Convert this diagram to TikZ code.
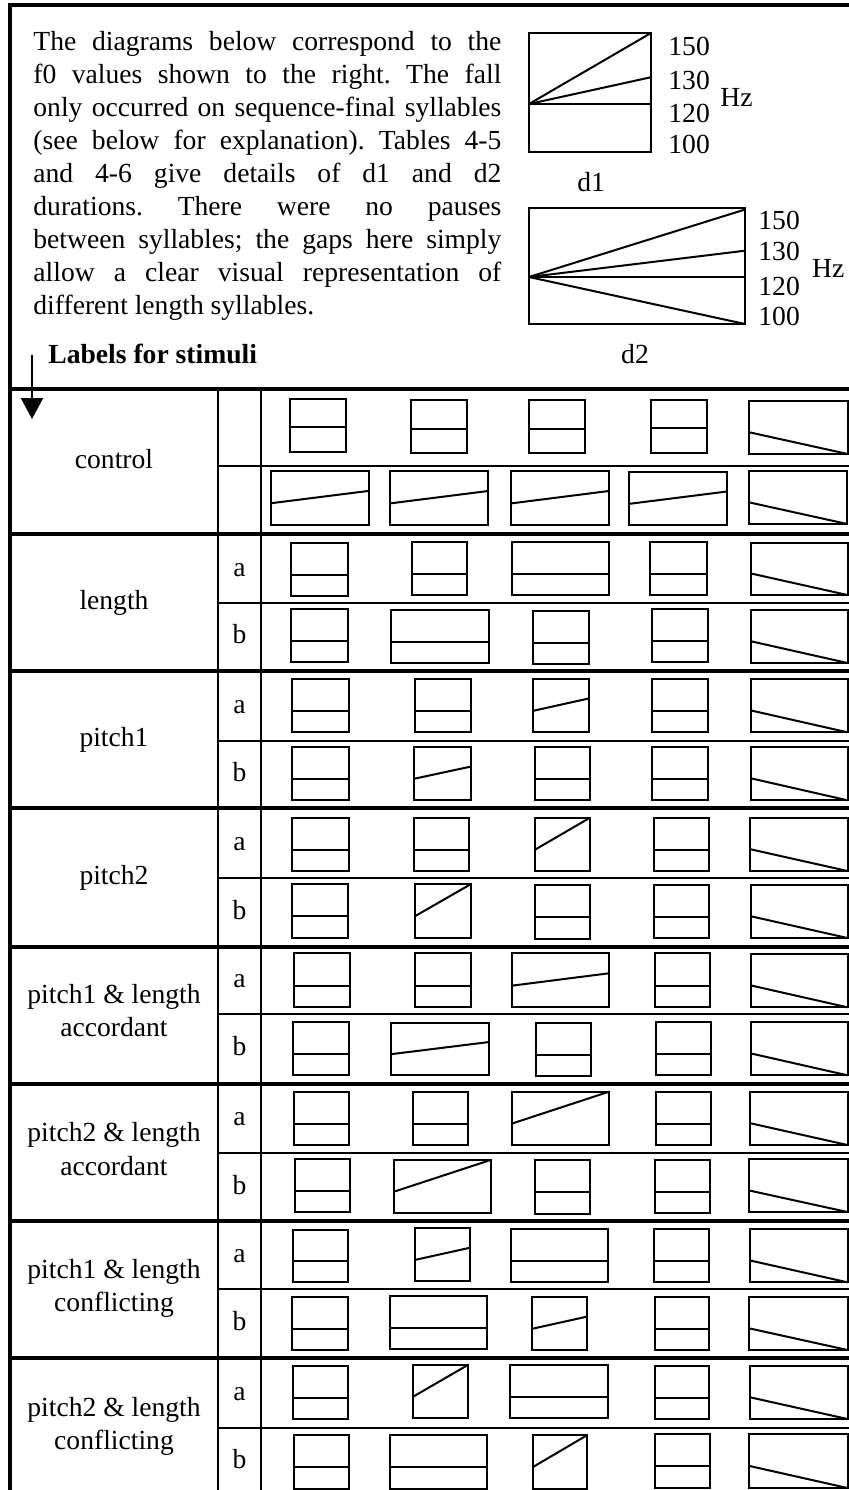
\documentclass[tikz,border=0pt]{standalone}
\usepackage{fontspec}
\setmainfont{Liberation Serif}
\usetikzlibrary{arrows.meta}
\tikzset{
  txt/.style={font=\fontsize{13.8pt}{16.5pt}\selectfont, inner sep=0pt},
  boldtxt/.style={font=\fontsize{13.8pt}{16.5pt}\selectfont\bfseries, inner sep=0pt},
  boxline/.style={line width=1pt},
  thickrule/.style={line width=2pt},
  thinrule/.style={line width=0.9pt},
  colrule/.style={line width=1pt},
}
% x1 y1 x2 y2 type: 0 flat(120), 1 flat (higher), 2 rise to 130, 3 rise to 150, 4 fall to 100
\newcommand\syl[5]{%
  \draw[boxline] (#1,#2) rectangle (#3,#4);
  \ifcase#5\relax
    \draw[boxline] (#1,{#2+0.6*(#4-#2)}) -- (#3,{#2+0.6*(#4-#2)});
  \or
    \draw[boxline] (#1,{#2+0.54*(#4-#2)}) -- (#3,{#2+0.54*(#4-#2)});
  \or
    \draw[boxline] (#1,{#2+0.6*(#4-#2)}) -- (#3,{#2+0.37*(#4-#2)});
  \or
    \draw[boxline] (#1,{#2+0.6*(#4-#2)}) -- (#3,#2);
  \or
    \draw[boxline] (#1,{#2+0.59*(#4-#2)}) -- (#3,#4);
  \fi}
\begin{document}
\begin{tikzpicture}[x=0.5pt,y=-0.5pt]
\useasboundingbox (0,0) rectangle (849,1490);
% outer borders
\draw[thickrule] (8,5) -- (849,5);
\draw[thickrule] (10,4) -- (10,1490);
% intro text
\node[txt, text width=234pt, align=justify, anchor=base west] (intro) at (33,50)
 {\tolerance=10000 \frenchspacing \hyphenpenalty=10000 \exhyphenpenalty=10000
 The diagrams below correspond to the\linebreak
 f0 values shown to the right. The fall\linebreak
 only occurred on sequence-final syllables\linebreak
 (see below for explanation). Tables 4-5\linebreak
 and 4-6 give details of d1 and d2\linebreak
 durations. There were no pauses\linebreak
 between syllables; the gaps here simply\linebreak
 allow a clear visual representation of\linebreak
 different length syllables.};
% d1 diagram
\draw[boxline] (529,33) rectangle (651,152);
\draw[boxline] (529,104) -- (651,104);
\draw[boxline] (529,104) -- (651,33);
\draw[boxline] (529,104) -- (652,77);
\node[txt, anchor=west] (d1a) at (668,46) {150};
\node[txt, anchor=west] (d1b) at (668,80) {130};
\node[txt, anchor=west] (d1c) at (668,113) {120};
\node[txt, anchor=west] (d1d) at (668,144) {100};
\node[txt, anchor=west] (d1hz) at (720,97) {Hz};
\node[txt, anchor=west] (d1lab) at (577,182) {d1};
% d2 diagram
\draw[boxline] (528.5,207.5) rectangle (745,324);
\draw[boxline] (529,277) -- (745,277);
\draw[boxline] (529,277) -- (745,209.5);
\draw[boxline] (529,277) -- (745,250.7);
\draw[boxline] (529,277) -- (745,324);
\node[txt, anchor=west] (d2a) at (758,220.7) {150};
\node[txt, anchor=west] (d2b) at (758,251.7) {130};
\node[txt, anchor=west] (d2c) at (758,286.7) {120};
\node[txt, anchor=west] (d2d) at (758,316.7) {100};
\node[txt, anchor=west] (d2hz) at (811.7,268) {Hz};
\node[txt] (d2lab) at (635,354) {d2};
% labels for stimuli
\node[boldtxt, anchor=base west] (lfs) at (48,363) {Labels for stimuli};
\coordinate (arrS) at (32,355);
\coordinate (arrE) at (32,419);
% table rules
\foreach \y in {389,534,671,808,947,1084,1221,1358}
  \draw[thickrule] (9,\y) -- (849,\y);
\foreach \y in {466,603,741,878,1014,1153,1289,1428}
  \draw[thinrule] (218.3,\y) -- (849,\y);
\draw[colrule] (218.3,389) -- (218.3,1490);
\draw[colrule] (260.7,389) -- (260.7,1490);
\draw[line width=1pt, -{Triangle[width=11pt,length=10.5pt]}] (arrS) -- (arrE);
% row labels
\node[txt, anchor=base] (lcontrol) at (114,468) {control};
\node[txt, anchor=base] (llength) at (114,609) {length};
\node[txt, anchor=base] (lpitch1) at (114,746) {pitch1};
\node[txt, anchor=base] (lpitch2) at (114,884) {pitch2};
\node[txt, anchor=base] (lp1la1) at (114,1003) {pitch1 \& length};
\node[txt, anchor=base] (lp1la2) at (114,1036.5) {accordant};
\node[txt, anchor=base] (lp2la1) at (114,1141.5) {pitch2 \& length};
\node[txt, anchor=base] (lp2la2) at (114,1175) {accordant};
\node[txt, anchor=base] (lp1lc1) at (114,1278.5) {pitch1 \& length};
\node[txt, anchor=base] (lp1lc2) at (114,1311.5) {conflicting};
\node[txt, anchor=base] (lp2lc1) at (114,1416) {pitch2 \& length};
\node[txt, anchor=base] (lp2lc2) at (114,1449) {conflicting};
% a/b letters
\foreach \n/\y/\l in {la/576/a, lb/643/b, pa/713/a, pb/781/b, qa/850/a, qb/919/b,
  ra/987/a, rb/1055/b, sa/1125/a, sb/1194/b, ta/1262/a, tb/1330/b, ua/1400/a, ub/1468/b}
  \node[txt, anchor=base] (let\n) at (239.5,\y) {\l};
% control
\syl{290}{399}{345.7}{451.7}{1}
\syl{410.7}{400}{466.7}{453}{1}
\syl{529}{400}{585}{453}{1}
\syl{650.7}{399.7}{706.7}{452.7}{1}
\syl{749.3}{401}{847.7}{454}{4}
\syl{271}{471}{369}{524.7}{2}
\syl{390}{471}{488.3}{525}{2}
\syl{511}{471}{609}{525}{2}
\syl{629}{471.7}{726.7}{525.3}{2}
\syl{749.3}{471.3}{847.3}{524}{4}
% length
\syl{291}{542.7}{347.6}{595.7}{0}
\syl{411.5}{542}{466.7}{595}{0}
\syl{511.6}{541.7}{609}{595}{0}
\syl{650}{541.7}{706.5}{595}{0}
\syl{751}{542.5}{847.5}{595}{4}
\syl{291}{609}{347.6}{662}{0}
\syl{391}{610}{489}{663}{0}
\syl{533}{610.7}{588.5}{663.7}{0}
\syl{652}{609}{707.6}{662}{0}
\syl{751}{610}{847.5}{663}{4}
% pitch1
\syl{292}{678.7}{348.7}{732.3}{0}
\syl{414.7}{678.7}{470.5}{732.3}{0}
\syl{533}{678.7}{588.5}{732.3}{2}
\syl{652}{679}{707.6}{732.3}{0}
\syl{751}{679}{847.5}{732.3}{4}
\syl{292}{746.7}{348.7}{800.3}{0}
\syl{413.6}{746.7}{471}{800.3}{2}
\syl{535}{747}{590}{800.3}{0}
\syl{652}{746.7}{707.6}{800.3}{0}
\syl{751}{746.7}{847.5}{800.3}{4}
% pitch2
\syl{292}{817.7}{348.7}{871}{0}
\syl{414}{817.7}{469.4}{871}{0}
\syl{535}{817.7}{590}{871}{3}
\syl{653.5}{817.7}{708.7}{871}{0}
\syl{750}{817.7}{847.5}{871}{4}
\syl{292}{884.3}{348}{937.7}{0}
\syl{414.7}{884.3}{470.5}{937.7}{3}
\syl{535}{885}{590}{938.5}{0}
\syl{654}{885}{709}{938}{0}
\syl{751}{885}{847.5}{938}{4}
% pitch1 & length accordant
\syl{294}{953.3}{349.8}{1007.3}{0}
\syl{415}{953.3}{470.5}{1007.3}{0}
\syl{511.6}{953.3}{609}{1007.3}{2}
\syl{655}{953.3}{710}{1007.3}{0}
\syl{751}{954}{847.5}{1007.3}{4}
\syl{293.4}{1021.7}{349}{1075.3}{0}
\syl{391}{1022.5}{489}{1075.3}{2}
\syl{536}{1022.5}{591}{1076}{0}
\syl{655.6}{1022}{711}{1075.3}{0}
\syl{751}{1022}{847.5}{1075.3}{4}
% pitch2 & length accordant
\syl{294}{1091.7}{349}{1145}{0}
\syl{412.6}{1091.7}{467.8}{1145}{0}
\syl{511.6}{1091.7}{609}{1145}{3}
\syl{655.6}{1091.7}{711}{1145}{0}
\syl{750}{1091.7}{847.5}{1145}{4}
\syl{295}{1159.3}{349.8}{1212}{0}
\syl{393.6}{1160}{490.5}{1213}{3}
\syl{535}{1160}{590}{1213.5}{0}
\syl{655}{1160}{709.8}{1213}{0}
\syl{748.8}{1159.3}{847.5}{1212}{4}
% pitch1 & length conflicting
\syl{293}{1230}{348}{1282.3}{0}
\syl{414.7}{1228}{470}{1281.3}{2}
\syl{511}{1229}{608}{1282.3}{0}
\syl{654}{1229}{709}{1282}{0}
\syl{750}{1229}{847.5}{1282.3}{4}
\syl{292}{1297}{347.6}{1350}{0}
\syl{390.4}{1296}{487.3}{1349}{0}
\syl{532}{1297}{587}{1350}{2}
\syl{655}{1297}{709}{1350}{0}
\syl{749}{1297}{847.5}{1350}{4}
% pitch2 & length conflicting
\syl{293}{1366}{348}{1419}{0}
\syl{412.6}{1365}{467.8}{1418.3}{3}
\syl{510}{1365}{607.5}{1418.3}{0}
\syl{655}{1366}{709}{1419}{0}
\syl{750}{1366}{847.5}{1419}{4}
\syl{294}{1435}{349}{1488.5}{0}
\syl{390}{1435}{487.3}{1488.5}{0}
\syl{532.8}{1435}{587.4}{1488.5}{3}
\syl{655}{1434}{710.3}{1488}{0}
\syl{749}{1434}{847.5}{1488}{4}
\end{tikzpicture}
\end{document}
